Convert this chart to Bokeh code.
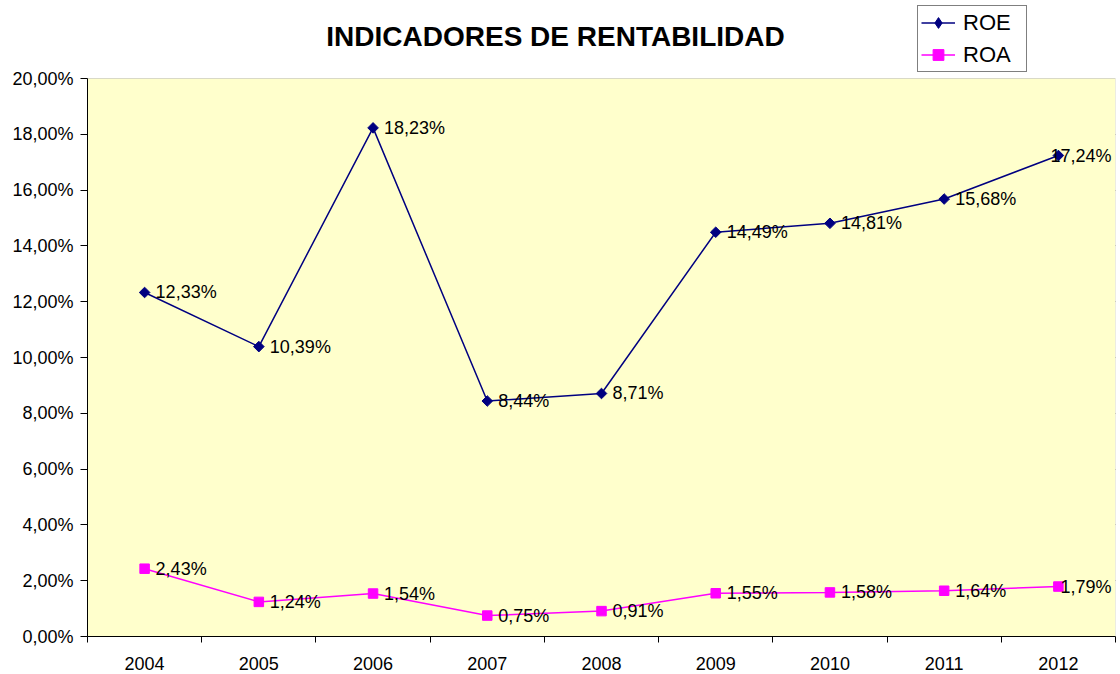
import math

from bokeh.plotting import figure
from bokeh.models import (Range1d, FixedTicker, Legend, LegendItem,
                          ColumnDataSource, BoxAnnotation, Label)
from bokeh.embed import file_html
from bokeh.resources import INLINE

# Annual profitability indicators (percent)
years = ["2004", "2005", "2006", "2007", "2008", "2009", "2010", "2011", "2012"]
roe = [12.33, 10.39, 18.23, 8.44, 8.71, 14.49, 14.81, 15.68, 17.24]
roa = [2.43, 1.24, 1.54, 0.75, 0.91, 1.55, 1.58, 1.64, 1.79]
y_ticks = [0, 2, 4, 6, 8, 10, 12, 14, 16, 18, 20]

FONT = "Liberation Sans"
W, H = 1120, 674
LEFT, RIGHT, BOTTOM = 87, 5, 38
PLOT_TOP = 78          # pixel row where the value area begins
Y_MAX = 20
ROE_COLOR = "#000080"
ROA_COLOR = "#FF00FF"


def pct(v):
    return f"{v:.2f}".replace(".", ",") + "%"


xs = list(range(1, len(years) + 1))
# labels sit right of each point; the last one is pulled in so it stays inside the plot
roe_off = [11] * (len(xs) - 1) + [-8]
roa_off = [11] * (len(xs) - 1) + [2]
src_roe = ColumnDataSource(dict(x=xs, y=roe, lbl=[pct(v) for v in roe], off=roe_off))
src_roa = ColumnDataSource(dict(x=xs, y=roa, lbl=[pct(v) for v in roa], off=roa_off))

# The frame reaches the top of the canvas so the header (title, legend) lives in it;
# the value area 0..Y_MAX is the yellow box below.
frame_h = H - BOTTOM
y_top = Y_MAX * frame_h / (frame_h - PLOT_TOP)
x0, x1 = 0.5, len(years) + 0.5

p = figure(width=W, height=H, output_backend="svg", toolbar_location=None,
           x_range=Range1d(x0, x1), y_range=Range1d(0, y_top),
           min_border_left=LEFT, min_border_right=RIGHT, min_border_top=0,
           min_border_bottom=BOTTOM)
p.background_fill_color = "white"
p.border_fill_color = "white"
p.outline_line_color = None

p.add_layout(BoxAnnotation(left=x0, right=x1, bottom=0, top=Y_MAX,
                           fill_color="#FFFFCC", fill_alpha=1,
                           line_color="#808080", line_width=1, level="underlay"))

# Axes
p.xaxis.ticker = FixedTicker(ticks=xs, minor_ticks=[x - 0.5 for x in xs] + [x1])
p.xaxis.major_label_overrides = {x: y for x, y in zip(xs, years)}
p.xaxis.major_tick_line_color = None
p.xaxis.minor_tick_in = 0
p.xaxis.minor_tick_out = 6
p.xaxis.minor_tick_line_color = "black"
p.xaxis.major_label_standoff = 14

p.yaxis.ticker = FixedTicker(ticks=y_ticks)
p.yaxis.bounds = (0, Y_MAX)
p.yaxis.major_label_overrides = {t: pct(t) for t in y_ticks}
p.yaxis.major_tick_in = 0
p.yaxis.major_tick_out = 7
p.yaxis.major_tick_line_color = "black"
p.yaxis.minor_tick_line_color = None
p.yaxis.major_label_standoff = 7

for ax in (p.xaxis, p.yaxis):
    ax.axis_line_color = "black"
    ax.major_label_text_font = FONT
    ax.major_label_text_font_size = "18px"
    ax.major_label_text_color = "black"

p.xgrid.grid_line_color = None
p.ygrid.ticker = FixedTicker(ticks=y_ticks[1:-1])
p.ygrid.grid_line_color = "#333333"
p.ygrid.grid_line_width = 1

# Series
l1 = p.line("x", "y", source=src_roe, color=ROE_COLOR, line_width=1.5)
p.scatter("x", "y", source=src_roe, marker="square", angle=math.pi / 4,
          size=7.5, fill_color=ROE_COLOR, line_color=ROE_COLOR)
l2 = p.line("x", "y", source=src_roa, color=ROA_COLOR, line_width=1.5)
m2 = p.scatter("x", "y", source=src_roa, marker="square", size=9.5,
               fill_color=ROA_COLOR, line_color=ROA_COLOR)

# marker used only for the legend swatch of ROE (its single point is undefined,
# so nothing is drawn in the plot itself)
k1 = p.scatter(x=[math.nan], y=[math.nan], marker="diamond", size=12,
               fill_color=ROE_COLOR, line_color=ROE_COLOR)

for src in (src_roe, src_roa):
    p.text("x", "y", text="lbl", source=src, x_offset="off", text_baseline="middle",
           text_align="left", text_font_size="18px", text_color="black",
           text_font={"value": FONT})

# Title
p.add_layout(Label(x=468, y=frame_h - 36, x_units="screen", y_units="screen",
                   text="INDICADORES DE RENTABILIDAD", text_align="center",
                   text_baseline="middle", text_font=FONT, text_font_size="28px",
                   text_font_style="bold", text_color="black"))

# Legend
legend = Legend(items=[LegendItem(label="ROE", renderers=[l1, k1]),
                       LegendItem(label="ROA", renderers=[l2, m2])],
                location=(830, frame_h - 72), orientation="vertical")
legend.label_text_font = FONT
legend.label_text_font_size = "22px"
legend.label_text_color = "black"
legend.border_line_color = "black"
legend.border_line_width = 1
legend.background_fill_color = "white"
legend.background_fill_alpha = 1
legend.padding = 3
legend.spacing = 5
legend.margin = 0
legend.glyph_width = 34
legend.glyph_height = 27
legend.label_height = 27
legend.label_width = 60
legend.label_standoff = 8
p.add_layout(legend, "center")

open("out.html", "w").write(file_html(p, INLINE))
